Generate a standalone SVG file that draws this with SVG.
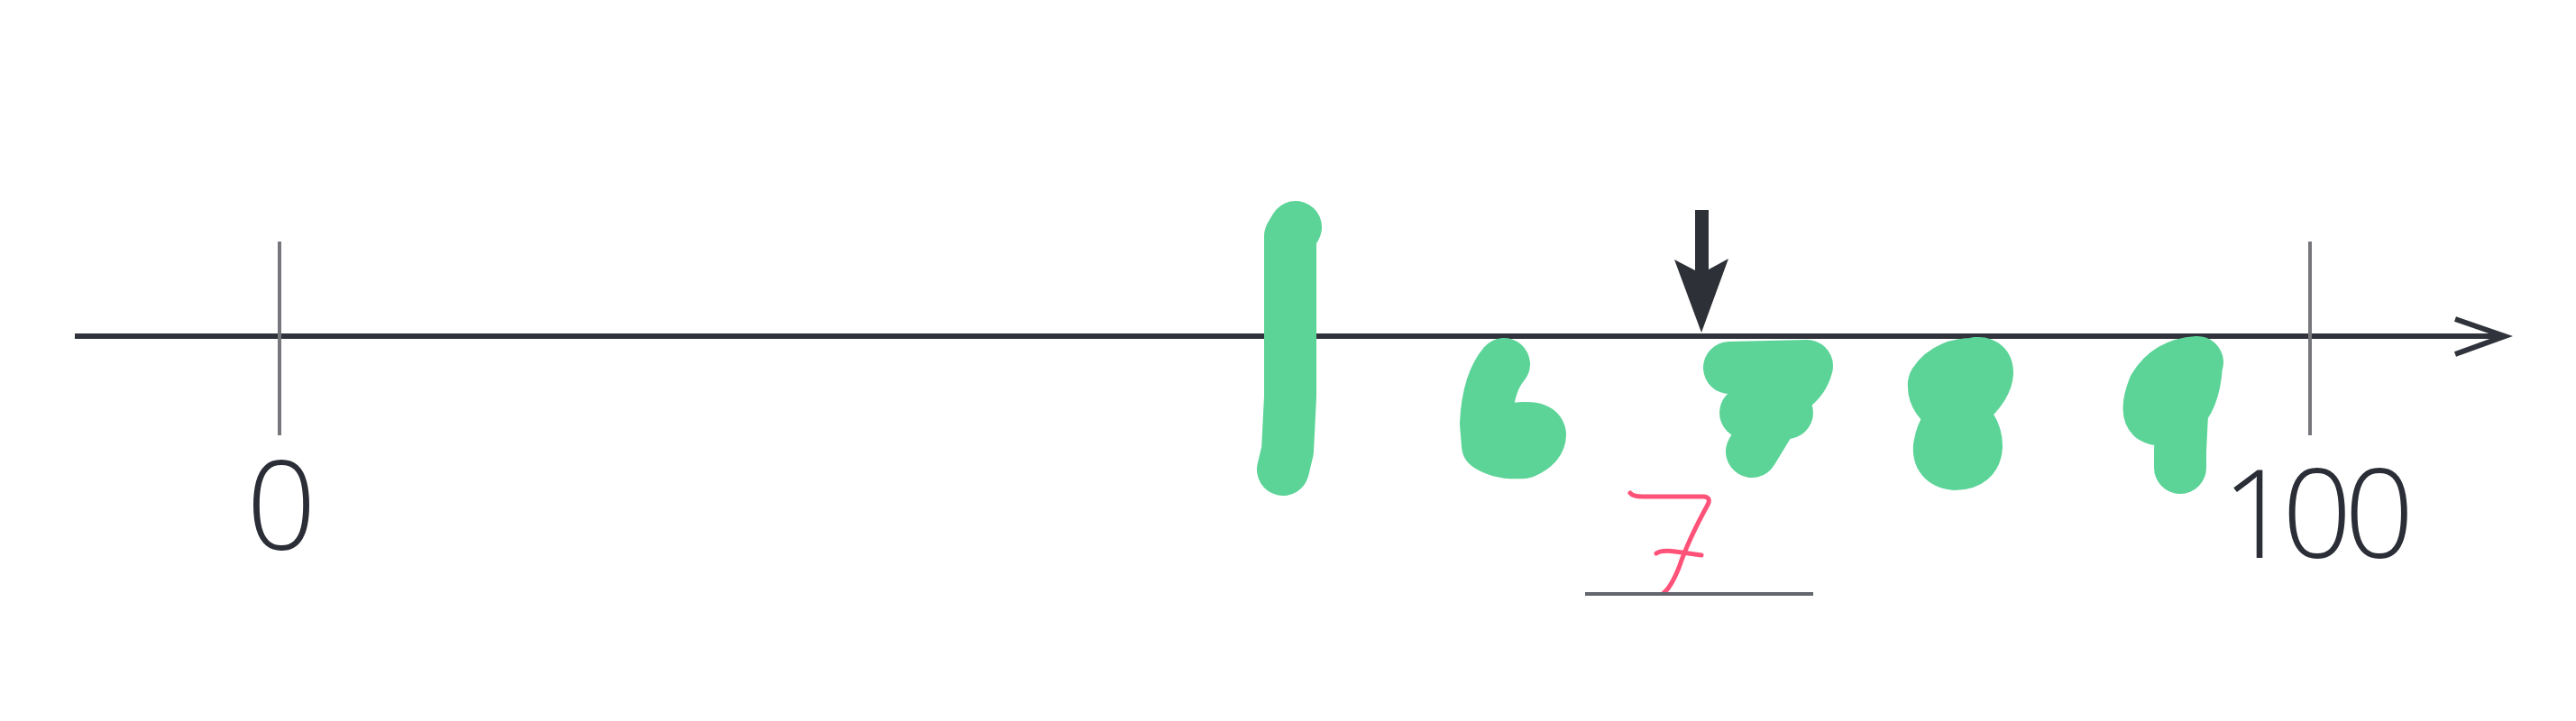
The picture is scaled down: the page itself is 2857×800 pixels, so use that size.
<svg xmlns="http://www.w3.org/2000/svg" width="2857" height="800" viewBox="0 0 2857 800">
<style>
.axis{stroke:#30333b;stroke-width:6;fill:none;stroke-linecap:butt}
.tick{stroke:#76777c;stroke-width:4;fill:none}
.lbl{font-family:"Open Sans","Liberation Sans",sans-serif;font-weight:300;font-size:136px;fill:#2b2e36}
.green{stroke:#5cd497;stroke-width:58;fill:none;stroke-linecap:round;stroke-linejoin:round}
.red{stroke:#ff5279;stroke-width:5;fill:none;stroke-linecap:round;stroke-linejoin:round}
</style>
<rect width="2857" height="800" fill="#ffffff"/>
<g id="connectors">
<line class="axis" x1="83" y1="373" x2="2776" y2="373"/>
<polyline class="axis" points="2723,354 2778,373 2723,393" stroke-linejoin="miter"/>
</g>
<g id="tick-0">
<line class="tick" x1="310" y1="268" x2="310" y2="483"/>
<text class="lbl" x="312" y="610" text-anchor="middle">0</text>
</g>
<g id="tick-100">
<line class="tick" x1="2562" y1="268" x2="2562" y2="483"/>
<text class="lbl" x="2464 2531 2600" y="619">100</text>
</g>
<g id="pointer">
<polygon fill="#2e3038" points="1880,233 1895,233 1895,299 1917,287 1887,369 1857,288 1880,300"/>
</g>
<g id="green-1">
<path class="green" d="M1437,252 L1431,262 L1431,440 L1428,500 L1423,521"/>
</g>
<g id="green-6">
<path class="green" d="M1668,404 Q1650,425 1648,470 L1650,494 Q1665,504 1690,502 Q1708,494 1708,482 Q1706,474 1690,475 L1665,477"/>
</g>
<g id="green-7">
<path class="green" d="M1918,408 L2004,406 Q2000,422 1985,432 L1943,501"/>
<path class="green" d="M1936,458 L1982,458"/>
</g>
<g id="green-8">
<path class="green" d="M2195,404 Q2160,402 2145,425 Q2143,445 2168,458 Q2192,472 2192,495 Q2191,515 2168,515 Q2149,513 2151,495 Q2155,470 2180,450 Q2203,430 2204,414 Q2204,402 2192,403"/>
</g>
<g id="green-9">
<path class="green" d="M2437,402 Q2405,404 2389,430 Q2379,455 2387,463 Q2397,469 2412,462 Q2431,448 2435,416 L2436,404 M2420,460 L2418,500 L2418,519"/>
</g>
<g id="answer">
<path class="red" d="M1808,547 Q1811,551 1822,551 L1890,551 Q1898,552 1894,560 Q1872,600 1862,630 Q1853,652 1845,658"/>
<path class="red" d="M1837,614 Q1843,610 1858,612 L1887,616"/>
<line x1="1758" y1="659" x2="2011" y2="659" stroke="#63666c" stroke-width="4"/>
</g>
</svg>
